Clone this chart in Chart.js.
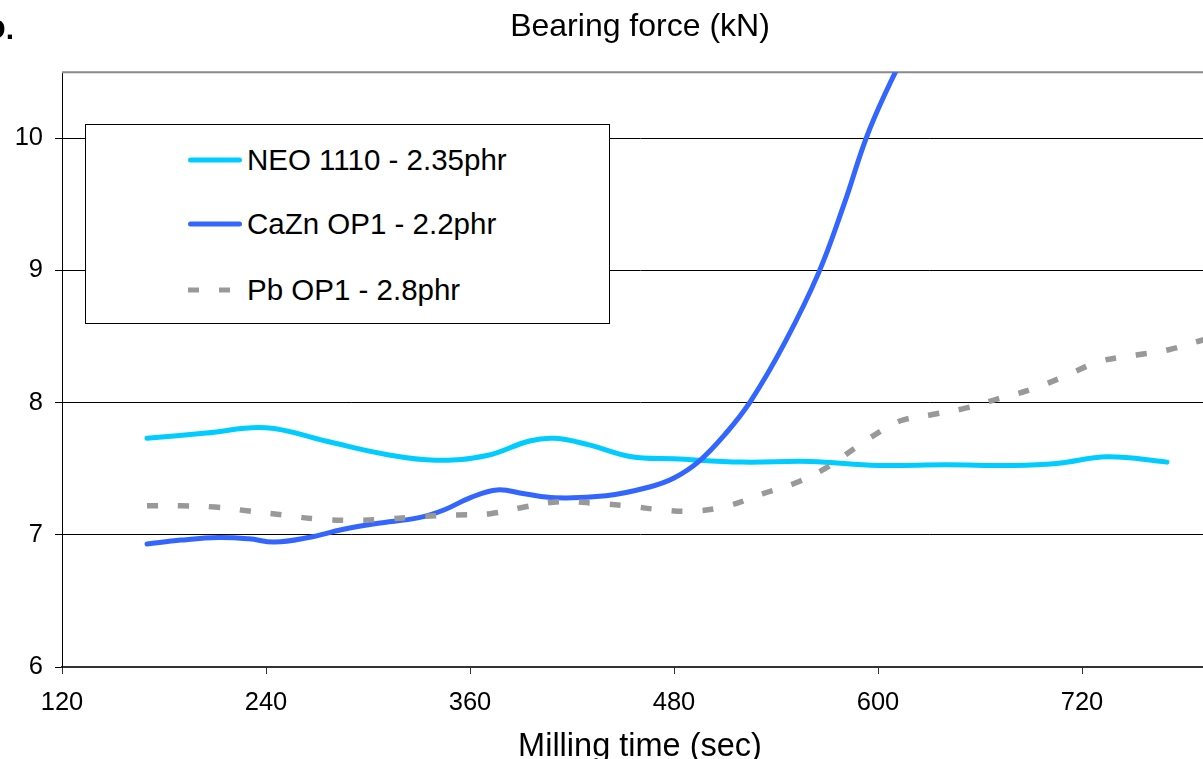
<!DOCTYPE html>
<html>
<head>
<meta charset="utf-8">
<script src="https://cdn.jsdelivr.net/npm/chart.js@4.4.1/dist/chart.umd.min.js"></script>
<style>
html,body{margin:0;padding:0;background:#fff;overflow:hidden;width:1203px;height:759px;}
#wrap{position:absolute;left:0;top:0;width:1240px;height:790px;}
#legend{position:absolute;left:85px;top:124px;width:525px;height:200px;box-sizing:border-box;border:1px solid #000;background:#fff;font-family:"Liberation Sans",Arial,sans-serif;font-size:29.5px;color:#000;}
#legend .row{position:absolute;left:0;height:40px;display:flex;align-items:center;white-space:nowrap;}
#legend .row svg{margin-left:102px;margin-right:5px;display:block;}
</style>
</head>
<body>
<div id="wrap"><canvas id="c" width="1240" height="790"></canvas></div>
<div id="legend"></div>
<script>
// ---- data ----
const chartTitle = 'Bearing force (kN)';
const xTitle = 'Milling time (sec)';
const panelLabel = 'D.';
const seriesNames = ['NEO 1110 - 2.35phr', 'CaZn OP1 - 2.2phr', 'Pb OP1 - 2.8phr'];

const xTicks = [120, 240, 360, 480, 600, 720];
const yTicks = [6, 7, 8, 9, 10];

const timeNEO  = [170, 205, 240, 275, 310, 340, 370, 395, 410, 430, 455, 480, 520, 560, 600, 640, 680, 705, 735, 770];
const forceNEO = [7.73, 7.77, 7.81, 7.71, 7.61, 7.565, 7.60, 7.71, 7.73, 7.68, 7.59, 7.575, 7.55, 7.555, 7.525, 7.53, 7.525, 7.54, 7.59, 7.55];

const timeCaZn  = [170, 190, 212, 230, 245, 265, 285, 305, 330, 345, 360, 376, 392, 410, 440, 465, 480, 495, 510, 525, 545, 565, 580, 593, 605, 620];
const forceCaZn = [6.93, 6.96, 6.98, 6.97, 6.945, 6.98, 7.04, 7.085, 7.13, 7.19, 7.28, 7.34, 7.31, 7.28, 7.295, 7.36, 7.43, 7.56, 7.76, 8.01, 8.45, 8.98, 9.50, 10.0, 10.36, 10.75];

const timePb  = [170, 190, 210, 230, 250, 270, 292, 312, 332, 352, 372, 392, 412, 432, 452, 472, 492, 512, 532, 551, 570, 588, 605, 615, 632, 652, 671, 690, 710, 730, 752, 771, 790, 800];
const forcePb = [7.22, 7.22, 7.21, 7.18, 7.15, 7.12, 7.11, 7.12, 7.14, 7.15, 7.16, 7.21, 7.25, 7.24, 7.22, 7.19, 7.18, 7.22, 7.31, 7.39, 7.51, 7.67, 7.81, 7.87, 7.91, 7.96, 8.03, 8.10, 8.20, 8.31, 8.36, 8.40, 8.47, 8.50];

// ---- chart ----
const FONT = '"Liberation Sans", Arial, sans-serif';
Chart.defaults.font.family = FONT;
Chart.defaults.color = '#000';

function toPoints(xs, ys) { return xs.map((x, i) => ({ x: x, y: ys[i] })); }

const framePlugin = {
  id: 'frame',
  beforeDatasetsDraw(chart) {
    const { ctx, chartArea: a } = chart;
    ctx.save();
    ctx.strokeStyle = '#8a8a8a';
    ctx.lineWidth = 2;
    ctx.beginPath();
    ctx.moveTo(a.left, a.top);
    ctx.lineTo(a.right, a.top);
    ctx.stroke();
    ctx.restore();
  },
  afterDraw(chart) {
    const ctx = chart.ctx;
    ctx.save();
    ctx.fillStyle = '#000';
    ctx.font = 'bold 30px ' + FONT;
    ctx.textBaseline = 'alphabetic';
    ctx.textAlign = 'left';
    ctx.fillText(panelLabel, -16, 39);
    ctx.restore();
  }
};

const chart = new Chart(document.getElementById('c'), {
  type: 'line',
  data: {
    datasets: [
      { label: seriesNames[0], data: toPoints(timeNEO, forceNEO), borderColor: '#00CCFF', backgroundColor: '#00CCFF',
        borderWidth: 5, tension: 0.4, pointRadius: 0, fill: false, order: 3, borderCapStyle: 'round', borderJoinStyle: 'round' },
      { label: seriesNames[1], data: toPoints(timeCaZn, forceCaZn), borderColor: '#3366FF', backgroundColor: '#3366FF',
        borderWidth: 5, tension: 0.4, pointRadius: 0, fill: false, order: 2, borderCapStyle: 'round', borderJoinStyle: 'round', clip: 0 },
      { label: seriesNames[2], data: toPoints(timePb, forcePb), borderColor: '#999999', backgroundColor: '#999999',
        borderWidth: 5.5, tension: 0.4, pointRadius: 0, fill: false, order: 1, borderDash: [11, 20], borderCapStyle: 'butt' }
    ]
  },
  options: {
    responsive: false,
    animation: false,
    devicePixelRatio: 1,
    layout: { padding: { left: 0, right: 22, top: 0, bottom: 0 } },
    plugins: {
      legend: { display: false },
      tooltip: { enabled: false },
      title: {
        display: true, text: chartTitle, fullSize: false, color: '#000',
        font: { family: FONT, size: 32, weight: 'normal', lineHeight: 1.2 },
        padding: { top: 8, bottom: 25.8 }
      }
    },
    scales: {
      x: {
        type: 'linear', min: 120, max: 800,
        afterBuildTicks: s => { s.ticks = xTicks.map(v => ({ value: v })); },
        afterFit: s => { s.height = 123; },
        grid: { drawOnChartArea: false, drawTicks: true, tickLength: 7, color: '#333', lineWidth: 1 },
        border: { display: true, color: '#333', width: 2 },
        ticks: { color: '#000', font: { family: FONT, size: 25.5 }, padding: 14, maxRotation: 0, autoSkip: false },
        title: { display: true, text: xTitle, color: '#000', font: { family: FONT, size: 32.5, lineHeight: 1.2 }, padding: { top: 0, bottom: 23 } }
      },
      y: {
        type: 'linear', min: 6, max: 10.5,
        afterBuildTicks: s => { s.ticks = yTicks.map(v => ({ value: v })); },
        afterFit: s => { s.width = 62; },
        grid: { color: '#000', lineWidth: 1, drawTicks: true, tickLength: 7 },
        border: { display: true, color: '#000', width: 1 },
        ticks: { color: '#000', font: { family: FONT, size: 25.5 }, padding: 12 }
      }
    }
  },
  plugins: [framePlugin]
});

// ---- HTML legend built from the chart datasets ----
const legendEl = document.getElementById('legend');
const rowTops = [14.5, 79, 144.5];
chart.data.datasets.forEach((ds, i) => {
  const row = document.createElement('div');
  row.className = 'row';
  row.style.top = rowTops[i] + 'px';
  const ns = 'http://www.w3.org/2000/svg';
  const svg = document.createElementNS(ns, 'svg');
  svg.setAttribute('width', '54');
  svg.setAttribute('height', '10');
  const ln = document.createElementNS(ns, 'line');
  const dashed = ds.borderDash && ds.borderDash.length;
  ln.setAttribute('x1', dashed ? '0' : '2.5');
  ln.setAttribute('x2', dashed ? '54' : '51.5');
  ln.setAttribute('y1', '5');
  ln.setAttribute('y2', '5');
  ln.setAttribute('stroke', ds.borderColor);
  ln.setAttribute('stroke-width', '5');
  ln.setAttribute('stroke-linecap', dashed ? 'butt' : 'round');
  if (dashed) ln.setAttribute('stroke-dasharray', ds.borderDash.join(' '));
  svg.appendChild(ln);
  row.appendChild(svg);
  const span = document.createElement('span');
  span.textContent = ds.label;
  row.appendChild(span);
  legendEl.appendChild(row);
});
</script>
</body>
</html>
